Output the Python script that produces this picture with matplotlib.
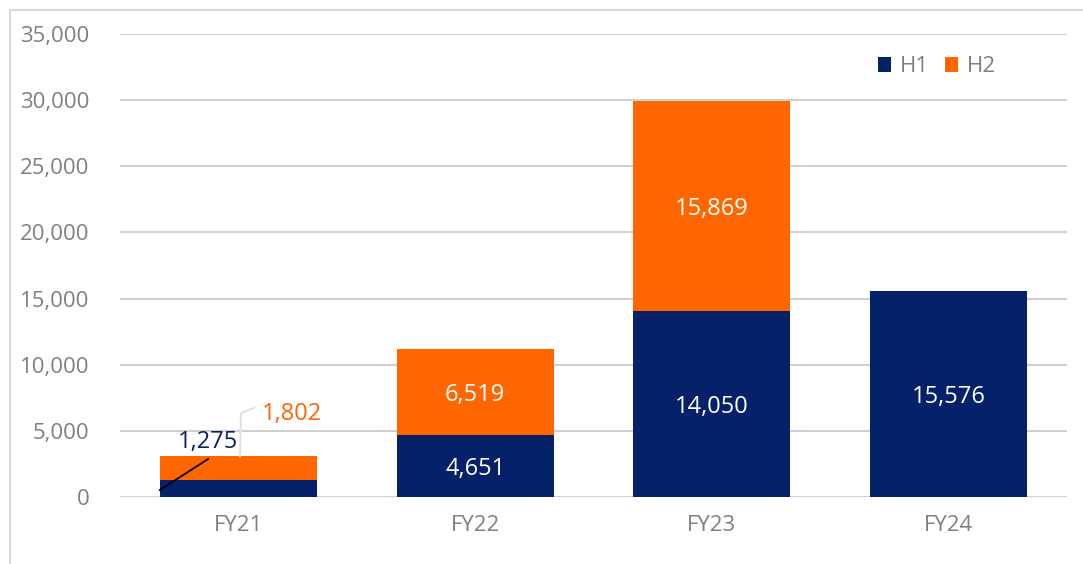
import matplotlib
matplotlib.use("Agg")
import matplotlib.pyplot as plt
from matplotlib.lines import Line2D
import numpy as np

categories = ["FY21", "FY22", "FY23", "FY24"]
h1 = [1275, 4651, 14050, 15576]
h2 = [1802, 6519, 15869, 0]
yticks = [0, 5000, 10000, 15000, 20000, 25000, 30000, 35000]

NAVY = "#052169"
ORANGE = "#ff6600"
GRAY = "#808080"
plt.rcParams['font.family'] = ['Open Sans', 'DejaVu Sans']

W, H = 1083, 564
fig = plt.figure(figsize=(W/100, H/100), dpi=100)
ax = fig.add_axes([120/W, (H-497)/H, (1067-120)/W, (497-34)/H])

x = np.arange(len(categories))
bw = 0.663
ax.bar(x, h1, bw, color=NAVY, label="H1", zorder=3)
ax.bar(x, h2, bw, bottom=h1, color=ORANGE, label="H2", zorder=3)

ax.set_xlim(-0.5, len(categories) - 0.5)
ax.set_ylim(0, 35000)
ax.set_yticks(yticks)
ax.set_yticklabels([f"{v:,}" for v in yticks])
ax.set_xticks(x)
ax.set_xticklabels(categories)
ax.tick_params(axis='both', length=0, labelsize=16, labelcolor=GRAY)
ax.tick_params(axis='y', pad=22)
ax.tick_params(axis='x', pad=13)
ax.grid(axis='y', color="#d0d0d0", linewidth=1.5, zorder=0)
for s in ax.spines.values():
    s.set_visible(False)

# labels inside bars
for i in range(1, len(categories)):
    ax.text(x[i], h1[i]/2, f"{h1[i]:,}", ha='center', va='center_baseline', color='white', fontsize=17, zorder=4)
    if h2[i] > 0:
        ax.text(x[i], h1[i] + h2[i]/2, f"{h2[i]:,}", ha='center', va='center_baseline', color='white', fontsize=17, zorder=4)

# FY21 callouts
i = 0
ax.plot([x[i] - bw/2, x[i] - 0.128], [530, 2870], color='black', lw=1.3, zorder=5)
ax.text(x[i] - 0.128, 4400, f"{h1[i]:,}", ha='center', va='center_baseline', color=NAVY, fontsize=17, zorder=5)
ax.plot([x[i] + 0.007, x[i] + 0.011, x[i] + 0.066], [h1[i] + h2[i], 6350, 6730],
        color="#e6e2d6", lw=1.5, zorder=5, clip_on=False)
ax.text(x[i] + 0.1, 6500, f"{h2[i]:,}", ha='left', va='center_baseline', color=ORANGE, fontsize=17, zorder=5)

leg = ax.legend(loc='upper right', bbox_to_anchor=(0.946, 0.995), ncol=2, frameon=False,
                fontsize=16, handlelength=0.6, handleheight=0.6, handletextpad=0.4,
                columnspacing=0.7)
for t in leg.get_texts():
    t.set_color(GRAY)

# outer border (left and top)
fig.add_artist(Line2D([10/W, 10/W], [0, 1 - 10/H], color="#d9d9d9", lw=1.5, transform=fig.transFigure))
fig.add_artist(Line2D([10/W, 1], [1 - 10/H, 1 - 10/H], color="#d9d9d9", lw=1.5, transform=fig.transFigure))

fig.savefig("out.png", dpi=100)
